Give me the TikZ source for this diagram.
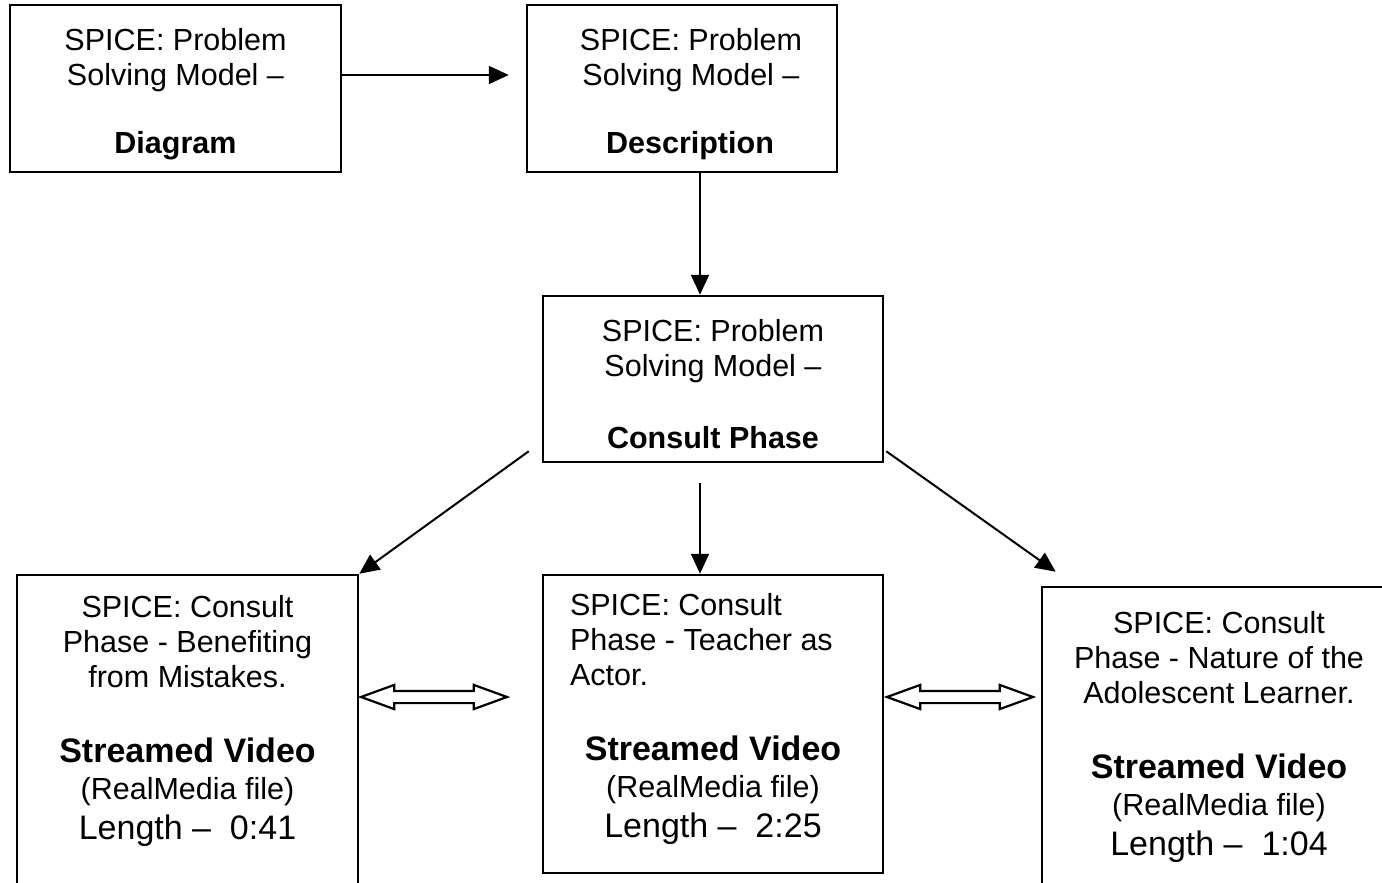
\documentclass[tikz,border=0pt]{standalone}
\usepackage{fontspec}
\setmainfont{Liberation Sans}
\usetikzlibrary{arrows.meta,shapes.arrows,positioning}

\newcommand{\biglen}{\fontsize{34}{39}\selectfont}
\newcommand{\lline}[1]{\makebox[286pt][l]{#1}}

\begin{document}
\begin{tikzpicture}[x=1pt, y=-1pt,
    box/.style={rectangle, draw, line width=2.5pt, align=center, inner sep=0pt,
        font=\fontsize{30.5}{35}\selectfont},
    arr/.style={-{Triangle[length=20pt,width=18pt]}, line width=2pt},
    dblarrow/.style={double arrow, draw, line width=2.2pt, inner xsep=0pt, inner ysep=5pt,
        minimum height=146pt,
        double arrow head extend=6pt, double arrow tip angle=40}
]
    \useasboundingbox (0,0) rectangle (1382,883);

    % Top row
    \node[box, minimum width=331pt, minimum height=167pt] (diagram) at (175.5,88.5)
        {\rule{0pt}{33pt}SPICE: Problem\\Solving Model --\\[33pt]\textbf{Diagram}};
    \node[box, minimum width=310pt, minimum height=167pt] (descr) at (682,88.5)
        {\rule{0pt}{33pt}\hspace*{18pt}SPICE: Problem\\\hspace*{18pt}Solving Model --\\[33pt]\hspace*{16pt}\textbf{Description}};

    % Middle
    \node[box, minimum width=340pt, minimum height=166pt] (consult) at (713,379)
        {\rule{0pt}{32pt}SPICE: Problem\\Solving Model --\\[37pt]\textbf{Consult Phase}};

    % Bottom row: videos
    \node[box, minimum width=341pt, minimum height=330pt] (mistakes) at (187.5,740)
        {SPICE: Consult\\Phase - Benefiting\\from Mistakes.\\[40pt]
         {\bfseries\biglen Streamed Video}\\[2pt](RealMedia file)\\[5pt]
         {\biglen Length --\ \ 0:41}\rule[-45pt]{0pt}{45pt}};
    \node[box, minimum width=340pt, minimum height=298pt] (actor) at (713,724)
        {\lline{SPICE: Consult}\\\lline{Phase - Teacher as}\\\lline{Actor.}\\[40pt]
         {\bfseries\biglen Streamed Video}\\[2pt](RealMedia file)\\[5pt]
         {\biglen Length --\ \ 2:25}\rule[-17pt]{0pt}{17pt}};
    \node[box, minimum width=354pt, minimum height=330pt] (learner) at (1219,752)
        {SPICE: Consult\\Phase - Nature of the\\Adolescent Learner.\\[40pt]
         {\bfseries\biglen Streamed Video}\\[2pt](RealMedia file)\\[5pt]
         {\biglen Length --\ \ 1:04}\rule[-37pt]{0pt}{37pt}};

    % Double arrows between videos
    \node[dblarrow] (link-left)  at (434,697) {};
    \node[dblarrow] (link-right) at (960,697) {};

    % Arrows
    \draw[arr, shorten >=17pt] ([yshift=13.5pt]diagram.east) -- ([yshift=13.5pt]descr.west);
    \draw[arr] ([xshift=18pt]descr.south) -- ([xshift=-13pt]consult.north);
    \draw[arr] ([xshift=-13pt,yshift=12pt]consult.south west) -- (mistakes.north east);
    \draw[arr] ([xshift=-13pt,yshift=-20pt]consult.south) -- ([xshift=-13pt]actor.north);
    \draw[arr] ([xshift=2pt,yshift=12pt]consult.south east) -- ([xshift=15pt,yshift=14pt]learner.north west);
\end{tikzpicture}
\end{document}
